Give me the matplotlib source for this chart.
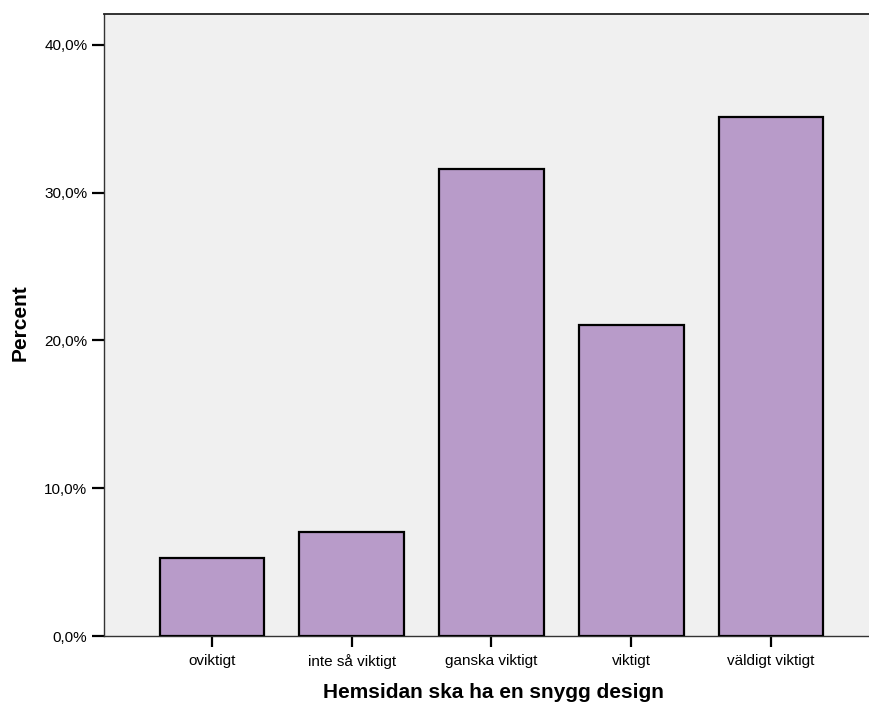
import matplotlib
matplotlib.use("Agg")
import matplotlib.pyplot as plt
from matplotlib.ticker import FuncFormatter

categories = ["oviktigt", "inte så viktigt", "ganska viktigt", "viktigt", "väldigt viktigt"]
percent = [5.26, 7.02, 31.58, 21.05, 35.09]
y_ticks = [0, 10, 20, 30, 40]

plt.rcParams['font.family'] = ['Liberation Sans', 'DejaVu Sans']

fig = plt.figure(figsize=(8.7, 7.06), dpi=100)
ax = fig.add_axes([104/870, 1 - 636/706, 766/870, 622/706])
ax.set_facecolor('#F0F0F0')

x = list(range(len(categories)))
ax.bar(x, percent, width=0.75, color='#B89BC9', edgecolor='black', linewidth=1.6, zorder=3)

ax.set_xlim(-0.773, 4.709)
ax.set_ylim(0, 42.08)
ax.set_yticks(y_ticks)
ax.yaxis.set_major_formatter(FuncFormatter(lambda v, p: f"{v:.1f}%".replace('.', ',')))
ax.set_xticks(x)
ax.set_xticklabels(categories)

ax.tick_params(axis='y', direction='out', length=9, width=1.6, color='black', labelsize=11, pad=3)
ax.tick_params(axis='x', direction='out', length=8, width=1.6, color='black', labelsize=11, pad=5)

ax.spines['right'].set_visible(False)
ax.spines['top'].set_color('#222222')
ax.spines['top'].set_linewidth(1.3)
ax.spines['left'].set_color('#333333')
ax.spines['left'].set_linewidth(1.0)
ax.spines['bottom'].set_color('#333333')
ax.spines['bottom'].set_linewidth(1.0)

ax.set_xlabel("Hemsidan ska ha en snygg design", fontsize=15, fontweight='bold', va='center')
ax.xaxis.set_label_coords((493.5 - 104) / 766, (636 - 692) / 622)
ax.set_ylabel("Percent", fontsize=15, fontweight='bold', va='center')
ax.yaxis.set_label_coords((20 - 104) / 766, (636 - 323) / 622)

fig.savefig("out.png", dpi=100)
